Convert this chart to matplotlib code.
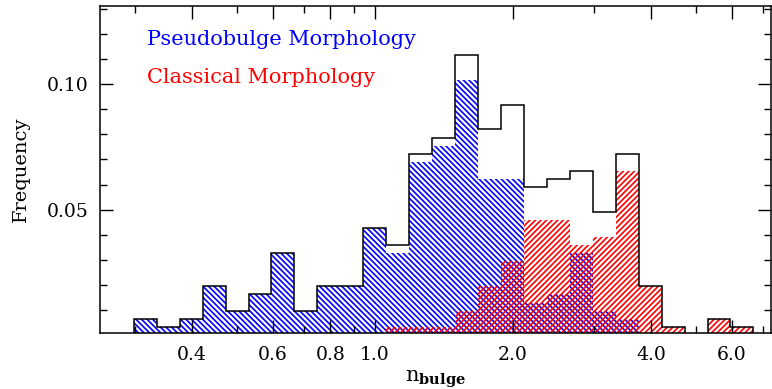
import numpy as np
import matplotlib
matplotlib.use("Agg")
import matplotlib.pyplot as plt
from matplotlib.ticker import FixedLocator, FixedFormatter, MultipleLocator

# bulge Sersic index histogram, 0.05 dex bins in log10(n)
log_edges = np.linspace(-0.525, 0.825, 28)
n_total = 305

# galaxies per bin
all_counts = [2, 1, 2, 6, 3, 5, 10, 3, 6, 6, 13, 11, 22, 24, 34, 25, 28,
              18, 19, 20, 15, 22, 6, 1, 0, 2, 1]
pseudo_counts = [2, 1, 2, 6, 3, 5, 10, 3, 6, 6, 13, 10, 21, 23, 31, 19, 19,
                 4, 5, 10, 3, 2, 0, 0, 0, 0, 0]
classical_counts = [0, 0, 0, 0, 0, 0, 0, 0, 0, 0, 0, 1, 1, 1, 3, 6, 9,
                    14, 14, 11, 12, 20, 6, 1, 0, 2, 1]

major_ticks = [0.4, 0.6, 0.8, 1.0, 2.0, 4.0, 6.0]
minor_ticks = [0.3, 0.5, 0.7, 0.9, 3.0, 5.0, 7.0]

plt.rcParams['font.family'] = 'DejaVu Serif'
plt.rcParams['mathtext.fontset'] = 'dejavuserif'
plt.rcParams['hatch.linewidth'] = 1.2

edges = 10 ** log_edges
f_all = np.array(all_counts) / n_total
f_pseudo = np.array(pseudo_counts) / n_total
f_classical = np.array(classical_counts) / n_total

W, H = 772, 389
fig = plt.figure(figsize=(W / 100, H / 100), dpi=100)
ax = fig.add_axes([100 / W, 1 - 333 / H, 671 / W, 327 / H])

ax.stairs(f_pseudo, edges, fill=True, facecolor='none', edgecolor='blue',
          hatch='\\' * 6, linewidth=0)
ax.stairs(f_classical, edges, fill=True, facecolor='none', edgecolor='red',
          hatch='/' * 6, linewidth=0)
ax.stairs(f_all, edges, color='black', linewidth=1.1)

ax.set_xscale('log')
ax.set_xlim(0.252, 7.3)
ax.set_ylim(0.001, 0.131)

ax.xaxis.set_major_locator(FixedLocator(major_ticks))
ax.xaxis.set_major_formatter(FixedFormatter(['%.1f' % t for t in major_ticks]))
ax.xaxis.set_minor_locator(FixedLocator(minor_ticks))
ax.xaxis.set_minor_formatter(FixedFormatter([''] * len(minor_ticks)))
ax.yaxis.set_major_locator(FixedLocator([0.05, 0.10]))
ax.yaxis.set_major_formatter(FixedFormatter(['0.05', '0.10']))
ax.yaxis.set_minor_locator(MultipleLocator(0.01))

ax.tick_params(which='both', direction='in', top=True, right=True,
               width=1.0, labelsize=13.5)
ax.tick_params(which='major', length=9.5, pad=8)
ax.tick_params(axis='x', which='major', pad=9.5)
ax.tick_params(which='minor', length=5)
for sp in ax.spines.values():
    sp.set_linewidth(1.1)

ax.set_xlabel(r'n$_{\mathbf{bulge}}$', fontsize=15, labelpad=3)
ax.set_ylabel('Frequency', fontsize=14, labelpad=12)

fig.text(147 / W, 1 - 45 / H, 'Pseudobulge Morphology', color='blue',
         fontsize=15)
fig.text(147 / W, 1 - 83 / H, 'Classical Morphology', color='red',
         fontsize=15)

fig.savefig('out.png', dpi=100)
